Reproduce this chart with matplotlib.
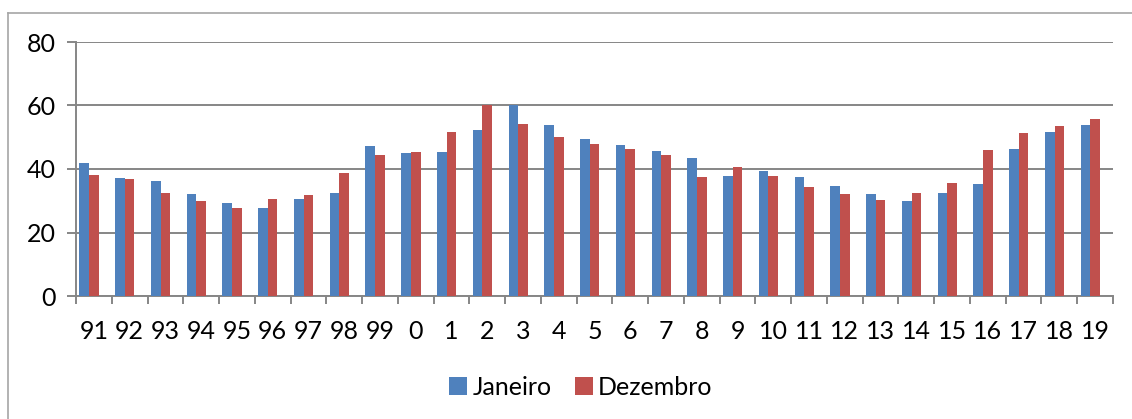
import numpy as np
import matplotlib; matplotlib.use("Agg")
import matplotlib.pyplot as plt
from matplotlib.lines import Line2D
plt.rcParams.update({"font.family": ["Lato", "DejaVu Sans"], "font.size": 18})

anos = ["91", "92", "93", "94", "95", "96", "97", "98", "99", "0", "1", "2", "3", "4",
        "5", "6", "7", "8", "9", "10", "11", "12", "13", "14", "15", "16", "17", "18", "19"]
janeiro = [41.8, 37.3, 36.2, 32.2, 29.3, 27.8, 30.5, 32.5, 47.1, 44.9, 45.3, 52.2, 60.0, 54.0,
           49.6, 47.7, 45.8, 43.6, 37.9, 39.5, 37.4, 34.8, 32.0, 29.8, 32.3, 35.2, 46.4, 51.5, 54.0]
dezembro = [38.0, 36.9, 32.5, 29.8, 27.8, 30.5, 31.7, 38.8, 44.5, 45.5, 51.5, 60.0, 54.2, 50.2,
            47.8, 46.4, 44.5, 37.4, 40.7, 37.9, 34.4, 32.0, 30.3, 32.5, 35.5, 46.1, 51.4, 53.7, 55.6]

BLUE, RED, GRID = "#4F81BD", "#C0504D", "#868686"

fig = plt.figure(figsize=(11.32, 4.19), dpi=100)
ax = fig.add_axes([76/1132, 1-296/419, (1113-76)/1132, (296-42)/419])

x = np.arange(len(anos)); w = 0.27
# excel layout leaves room for a third (empty) series, so bars sit left of centre
ax.bar(x - w, janeiro, w, color=BLUE, label="Janeiro", zorder=3)
ax.bar(x, dezembro, w, color=RED, label="Dezembro", zorder=3)

ax.set_xlim(-0.5, len(anos) - 0.5); ax.set_ylim(0, 80)
ax.set_yticks([0, 20, 40, 60, 80])
ax.yaxis.grid(True, color=GRID, lw=1.4, zorder=0)
ax.set_xticks(x); ax.set_xticklabels(anos)
ax.set_xticks(np.arange(-0.5, len(anos)), minor=True)
ax.tick_params(axis="x", which="major", length=0, pad=17)
ax.tick_params(axis="x", which="minor", length=6, width=1.4, color=GRID, direction="out")
ax.tick_params(axis="y", length=6.5, width=1.4, color=GRID, pad=8)
for s in ["top", "right"]:
    ax.spines[s].set_visible(False)
for s in ["left", "bottom"]:
    ax.spines[s].set_color(GRID); ax.spines[s].set_linewidth(1.4)

ax.legend(loc="center", bbox_to_anchor=(0.487, -0.36), ncol=2, frameon=False,
          fontsize=18, handlelength=0.72, handleheight=0.72, handletextpad=0.2,
          columnspacing=0.95)

# chart-area border (only left and top fall inside the image)
fig.add_artist(Line2D([8/1132, 8/1132], [0, 1-13/419], color="#a6a6a6", lw=1.2))
fig.add_artist(Line2D([8/1132, 1], [1-13/419, 1-13/419], color="#a6a6a6", lw=1.2))

fig.savefig("out.png", dpi=100)
